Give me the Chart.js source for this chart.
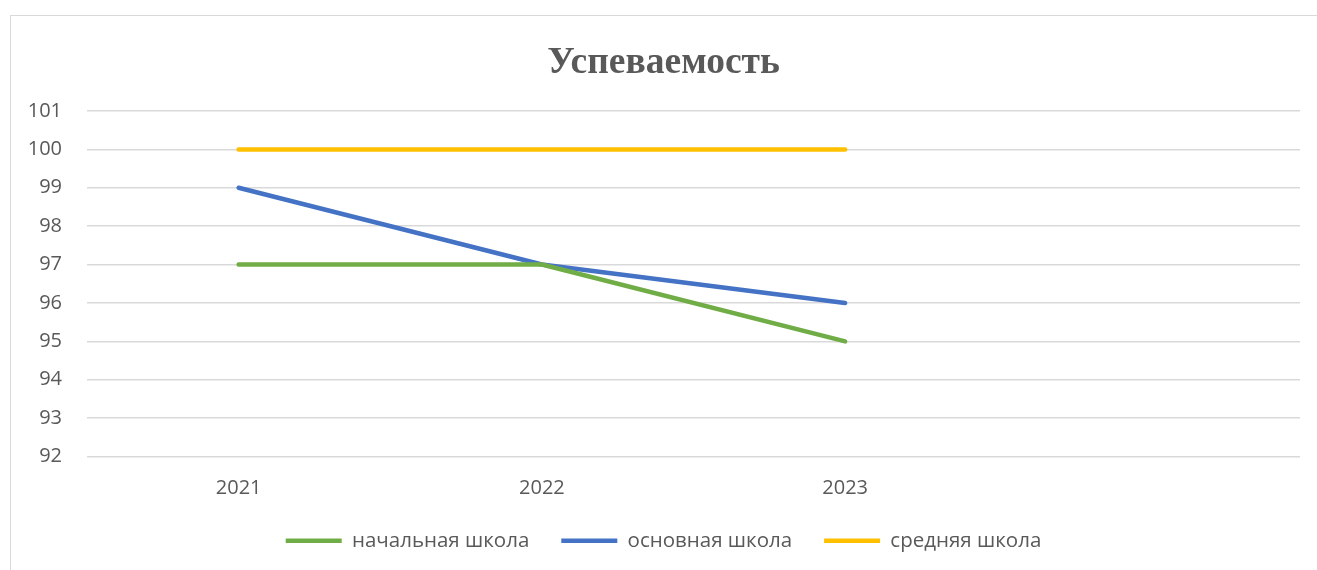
<!DOCTYPE html>
<html>
<head>
<meta charset="utf-8">
<script src="https://cdn.jsdelivr.net/npm/chart.js@4/dist/chart.umd.min.js"></script>
<style>
  html, body { margin: 0; padding: 0; background: #fff; overflow: hidden; }
  #frame {
    position: absolute; left: 10px; top: 15px; width: 1330px; height: 600px;
    border: 1.5px solid #d9d9d9; box-sizing: border-box;
  }
  #results { position: absolute; left: 0; top: 0; }
</style>
</head>
<body>
<div id="frame"></div>
<canvas id="results" width="1317" height="570"></canvas>
<script>
const YEARS = ["2021", "2022", "2023", ""];
const PRIMARY = [97, 97, 95];
const BASIC = [99, 97, 96];
const SECONDARY = [100, 100, 100];

const COLORS = {
  green: "#70AD47",
  blue: "#4472C4",
  yellow: "#FFC000",
};
const TEXT_COLOR = "#595959";
const GRID_COLOR = "#d9d9d9";

function series(label, data, color) {
  return {
    label,
    data,
    borderColor: color,
    backgroundColor: color,
    borderWidth: 4.5,
    borderCapStyle: "round",
    borderJoinStyle: "round",
    tension: 0,
    pointRadius: 0,
    pointHoverRadius: 0,
  };
}

const resultsData = {
  labels: YEARS,
  datasets: [
    series("начальная школа", PRIMARY, COLORS.green),
    series("основная школа", BASIC, COLORS.blue),
    series("средняя школа", SECONDARY, COLORS.yellow),
  ],
};

const resultsConfig = {
  type: "line",
  data: resultsData,
  options: {
    responsive: false,
    animation: false,
    layout: {
      padding: { left: 27, right: 17, top: 0, bottom: 9 },
    },
    scales: {
      x: {
        offset: true,
        grid: { display: false, drawTicks: false },
        border: { display: false },
        ticks: {
          padding: 20,
          color: TEXT_COLOR,
          font: { family: "'Open Sans'", size: 20 },
        },
        afterFit(scale) {
          scale.height = 42;
        },
      },
      y: {
        min: 92,
        max: 101,
        grid: { color: GRID_COLOR, lineWidth: 1.5, drawTicks: false },
        border: { display: false },
        ticks: {
          stepSize: 1,
          padding: 25,
          color: TEXT_COLOR,
          font: { family: "'Open Sans'", size: 20 },
        },
        afterFit(scale) {
          scale.width = 60;
        },
      },
    },
    plugins: {
      legend: {
        position: "bottom",
        labels: {
          usePointStyle: true,
          pointStyle: "line",
          pointStyleWidth: 56,
          padding: 32,
          color: TEXT_COLOR,
          font: { family: "'Open Sans'", size: 20.5 },
        },
      },
      title: {
        display: true,
        text: "Успеваемость",
        color: TEXT_COLOR,
        font: { family: "'Liberation Serif'", size: 37.5, weight: "bold" },
        padding: { top: 41, bottom: 25 },
      },
      tooltip: { enabled: false },
    },
  },
};

let resultsChart;
(function createResultsChart() {
  resultsChart = new Chart(document.getElementById("results"), resultsConfig);
})();
</script>
</body>
</html>
